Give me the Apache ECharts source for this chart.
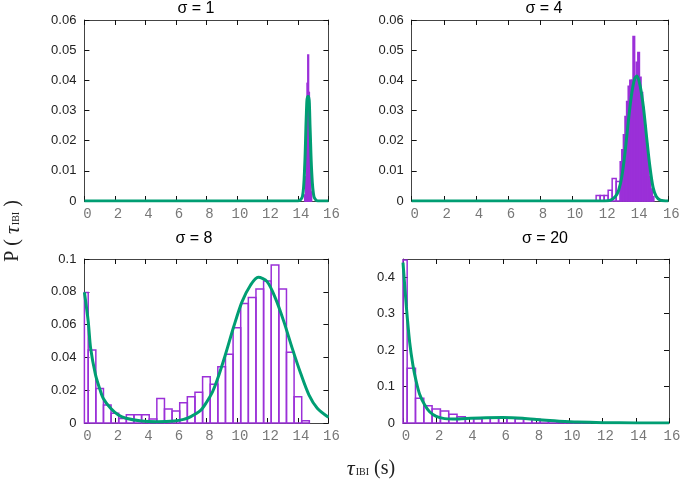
<!DOCTYPE html>
<html>
<head>
<meta charset="utf-8">
<script src="https://cdn.jsdelivr.net/npm/echarts@6/dist/echarts.min.js"></script>
<style>html,body{margin:0;padding:0;background:#fff}#c{width:685px;height:482px}</style>
</head>
<body>
<div id="c"></div>
<script>
// ---- Panel titles ----
const panelTitles = ['σ = 1', 'σ = 4', 'σ = 8', 'σ = 20'];

// ---- Axis ranges / ticks ----
const xMin = 0, xMax = 16, xStep = 2;
const yMaxes = [0.06, 0.06, 0.1, 0.45];
const ySteps = [0.01, 0.01, 0.02, 0.1];

// ---- σ = 1 histogram (bin width 0.05) ----
const p1Centers = [14.475, 14.525, 14.575, 14.625, 14.675, 14.725, 14.775, 14.825, 14.875];
const p1Heights = [0.002, 0.008, 0.02, 0.039, 0.0484, 0.036, 0.027, 0.01, 0.003];
const p1FitX = [0, 14.0, 14.3, 14.45, 14.55, 14.63, 14.71, 14.8, 14.9, 15.05, 15.3, 16];
const p1FitY = [0, 0, 0.0015, 0.012, 0.028, 0.0346, 0.0346, 0.024, 0.01, 0.0015, 0, 0];

// ---- σ = 4 histogram: sparse low bins (width 0.25) + dense core bins (width 0.1) ----
const p2LowCenters = [11.625, 11.875, 12.125, 12.375, 12.625, 12.875];
const p2LowHeights = [0.0018, 0.0018, 0.0018, 0.0036, 0.0075, 0.0065];
const p2CoreCenters = [13.05, 13.15, 13.25, 13.35, 13.45, 13.55, 13.65, 13.75, 13.85, 13.95,
                       14.05, 14.15, 14.25, 14.35, 14.45, 14.55, 14.65, 14.75, 14.85, 14.95, 15.05];
const p2CoreHeights = [0.013, 0.017, 0.022, 0.028, 0.033, 0.038, 0.040, 0.040, 0.0545, 0.040,
                       0.046, 0.0492, 0.041, 0.036, 0.031, 0.025, 0.019, 0.014, 0.008, 0.004, 0.0015];
const p2FitX = [0, 12.0, 12.4, 12.7, 12.9, 13.1, 13.3, 13.5, 13.7, 13.9, 14.05, 14.25, 14.45, 14.65, 14.85, 15.05, 15.25, 15.5, 16];
const p2FitY = [0, 0, 0.0003, 0.0015, 0.0035, 0.008, 0.016, 0.026, 0.035, 0.0405, 0.0414, 0.038, 0.031, 0.021, 0.0115, 0.0045, 0.0015, 0.0003, 0];

// ---- σ = 8 histogram (bin width 0.5) ----
const p3Centers = [0, 0.5, 1, 1.5, 2, 2.5, 3, 3.5, 4, 4.5, 5, 5.5, 6, 6.5, 7, 7.5, 8, 8.5, 9, 9.5,
                   10, 10.5, 11, 11.5, 12, 12.5, 13, 13.5, 14, 14.5];
const p3Heights = [0.0795, 0.0445, 0.021, 0.011, 0.006, 0.0028, 0.005, 0.005, 0.005, 0.0024,
                   0.015, 0.0085, 0.0073, 0.0124, 0.016, 0.0187, 0.0282, 0.0236, 0.0343, 0.0419,
                   0.0581, 0.0729, 0.0766, 0.0817, 0.0866, 0.0963, 0.0817, 0.0431, 0.016, 0.0014];
const p3FitX = [0, 0.25, 0.41, 0.73, 1.0, 1.24, 1.72, 2.23, 2.73, 3.74, 4.79, 5.89, 6.5, 6.98, 7.6, 8.0, 8.4, 8.7,
                9.24, 9.79, 10.34, 10.89, 11.4, 11.98, 12.53, 13.08, 13.63, 14.18, 14.73, 15.27, 16];
const p3FitY = [0.0797, 0.062, 0.0455, 0.0293, 0.021, 0.015, 0.009, 0.0049, 0.0029, 0.0012, 0.0008, 0.0012, 0.0022, 0.0039, 0.0075, 0.0125, 0.019, 0.026,
                0.0415, 0.0587, 0.074, 0.084, 0.0888, 0.0862, 0.076, 0.0618, 0.0455, 0.0303, 0.017, 0.009, 0.0035];

// ---- σ = 20 histogram (bin width 0.5) ----
const p4Centers = [0, 0.5, 1, 1.5, 2, 2.5, 3, 3.5, 4, 4.5, 5, 5.5, 6, 6.5, 7, 7.5, 8, 8.5, 9, 9.5, 10, 10.5, 11];
const p4Heights = [0.447, 0.150, 0.068, 0.0476, 0.0384, 0.033, 0.024, 0.0174, 0.013, 0.012, 0.013, 0.014,
                   0.014, 0.013, 0.012, 0.011, 0.010, 0.007, 0.005, 0.003, 0.002, 0.0015, 0.001];
const p4FitX = [0, 0.2, 0.4, 0.6, 0.8, 1.0, 1.3, 1.6, 2.0, 2.5, 3.0, 3.8, 5.0, 6.0, 7.2, 8.4, 9.4, 10.5, 12, 14, 16];
const p4FitY = [0.44, 0.32, 0.222, 0.158, 0.113, 0.079, 0.05, 0.031, 0.018, 0.012, 0.011, 0.0125, 0.0145, 0.015, 0.013, 0.008, 0.005, 0.0025, 0.0008, 0.0002, 0.0001];

// ---- styling / layout ----
const PURPLE = '#9b30d8';
const GREEN = '#009e73';
const grids = [
  {left: 84.4, top: 20, width: 244, height: 181},
  {left: 411.7, top: 20, width: 256.6, height: 181},
  {left: 84.4, top: 259, width: 244, height: 164},
  {left: 403, top: 259, width: 266, height: 164}
];
const titlePos = [[196, 9], [544, 9], [194, 239], [545, 239]];

function zip(a, b) { return a.map((v, i) => [v, b[i]]); }

function histRender(binW, filled) {
  return function (params, api) {
    const x = api.value(0), h = api.value(1);
    const p0 = api.coord([x - binW / 2, h]);
    const p1 = api.coord([x + binW / 2, 0]);
    const cs = params.coordSys;
    const r = echarts.graphic.clipRectByRect(
      {x: p0[0], y: p0[1], width: p1[0] - p0[0], height: p1[1] - p0[1]},
      {x: cs.x, y: cs.y, width: cs.width, height: cs.height});
    if (!r) return null;
    return {type: 'rect', shape: r,
      style: {fill: filled ? PURPLE : 'none', stroke: PURPLE, lineWidth: 1.5}};
  };
}

const xAxes = [], yAxes = [];
grids.forEach((g, i) => {
  const base = {
    type: 'value', gridIndex: i, min: xMin, max: xMax, interval: xStep,
    axisLine: {show: true, onZero: false, lineStyle: {color: '#444', width: 1}},
    axisTick: {show: true, inside: true, length: 5, lineStyle: {color: '#111'}},
    splitLine: {show: false}
  };
  xAxes.push(Object.assign({}, base, {
    position: 'bottom',
    axisLabel: {fontFamily: 'Liberation Mono', fontSize: 14, color: '#777', margin: 6, padding: [0, 0, 0, 6]}
  }));
  xAxes.push(Object.assign({}, base, {position: 'top', axisLabel: {show: false}}));
  const step = ySteps[i];
  const ybase = {
    type: 'value', gridIndex: i, min: 0, max: yMaxes[i], interval: step,
    axisLine: {show: true, onZero: false, lineStyle: {color: '#444', width: 1}},
    axisTick: {show: true, inside: true, length: 5, lineStyle: {color: '#111'}},
    splitLine: {show: false}
  };
  yAxes.push(Object.assign({}, ybase, {
    position: 'left',
    axisLabel: {fontFamily: 'Liberation Sans', fontSize: 13, color: '#222', margin: 8,
      formatter: function (v) {
        const k = Math.round(v / step);
        if (Math.abs(k * step - v) > 1e-9) return '';
        return String(+(k * step).toFixed(4));
      }}
  }));
  yAxes.push(Object.assign({}, ybase, {position: 'right', axisLabel: {show: false}}));
});

const series = [];
function addHist(i, centers, heights, w, filled) {
  series.push({type: 'custom', xAxisIndex: 2 * i, yAxisIndex: 2 * i, renderItem: histRender(w, filled),
    data: zip(centers, heights), z: 2, silent: true});
}
function addFit(i, xs, ys) {
  series.push({type: 'line', xAxisIndex: 2 * i, yAxisIndex: 2 * i, data: zip(xs, ys),
    showSymbol: false, smooth: 0.3, lineStyle: {color: GREEN, width: 3}, z: 5, silent: true, clip: true});
}
addHist(0, p1Centers, p1Heights, 0.05, true);
addFit(0, p1FitX, p1FitY);
addHist(1, p2LowCenters, p2LowHeights, 0.25, false);
addHist(1, p2CoreCenters, p2CoreHeights, 0.1, true);
addFit(1, p2FitX, p2FitY);
addHist(2, p3Centers, p3Heights, 0.5, false);
addFit(2, p3FitX, p3FitY);
addHist(3, p4Centers, p4Heights, 0.5, false);
addFit(3, p4FitX, p4FitY);

const graphics = panelTitles.map((t, i) => ({
  type: 'text', x: titlePos[i][0], y: titlePos[i][1],
  style: {text: t, fontFamily: 'Liberation Sans', fontSize: 16, fill: '#000', align: 'center', verticalAlign: 'middle'}
}));
const serifRich = {
  n: {fontFamily: 'Liberation Serif', fontSize: 20, fill: '#222'},
  t: {fontFamily: 'Liberation Serif', fontStyle: 'italic', fontSize: 22, fill: '#222'},
  s: {fontFamily: 'Liberation Serif', fontSize: 10, fill: '#222', padding: [7, 0, 0, 1]}
};
graphics.push({
  type: 'text', x: 13, y: 231, rotation: Math.PI / 2,
  style: {text: '{n|P}{n| ( }{t|τ}{s|IBI}{n| )}', rich: serifRich, align: 'center', verticalAlign: 'middle'}
});
graphics.push({
  type: 'text', x: 371, y: 469,
  style: {text: '{t|τ}{s|IBI}{n| (s)}', rich: serifRich, align: 'center', verticalAlign: 'middle'}
});

const chart = echarts.init(document.getElementById('c'), null, {renderer: 'canvas'});
chart.setOption({
  animation: false,
  backgroundColor: '#fff',
  grid: grids,
  xAxis: xAxes,
  yAxis: yAxes,
  series: series,
  graphic: graphics
});
</script>
</body>
</html>
